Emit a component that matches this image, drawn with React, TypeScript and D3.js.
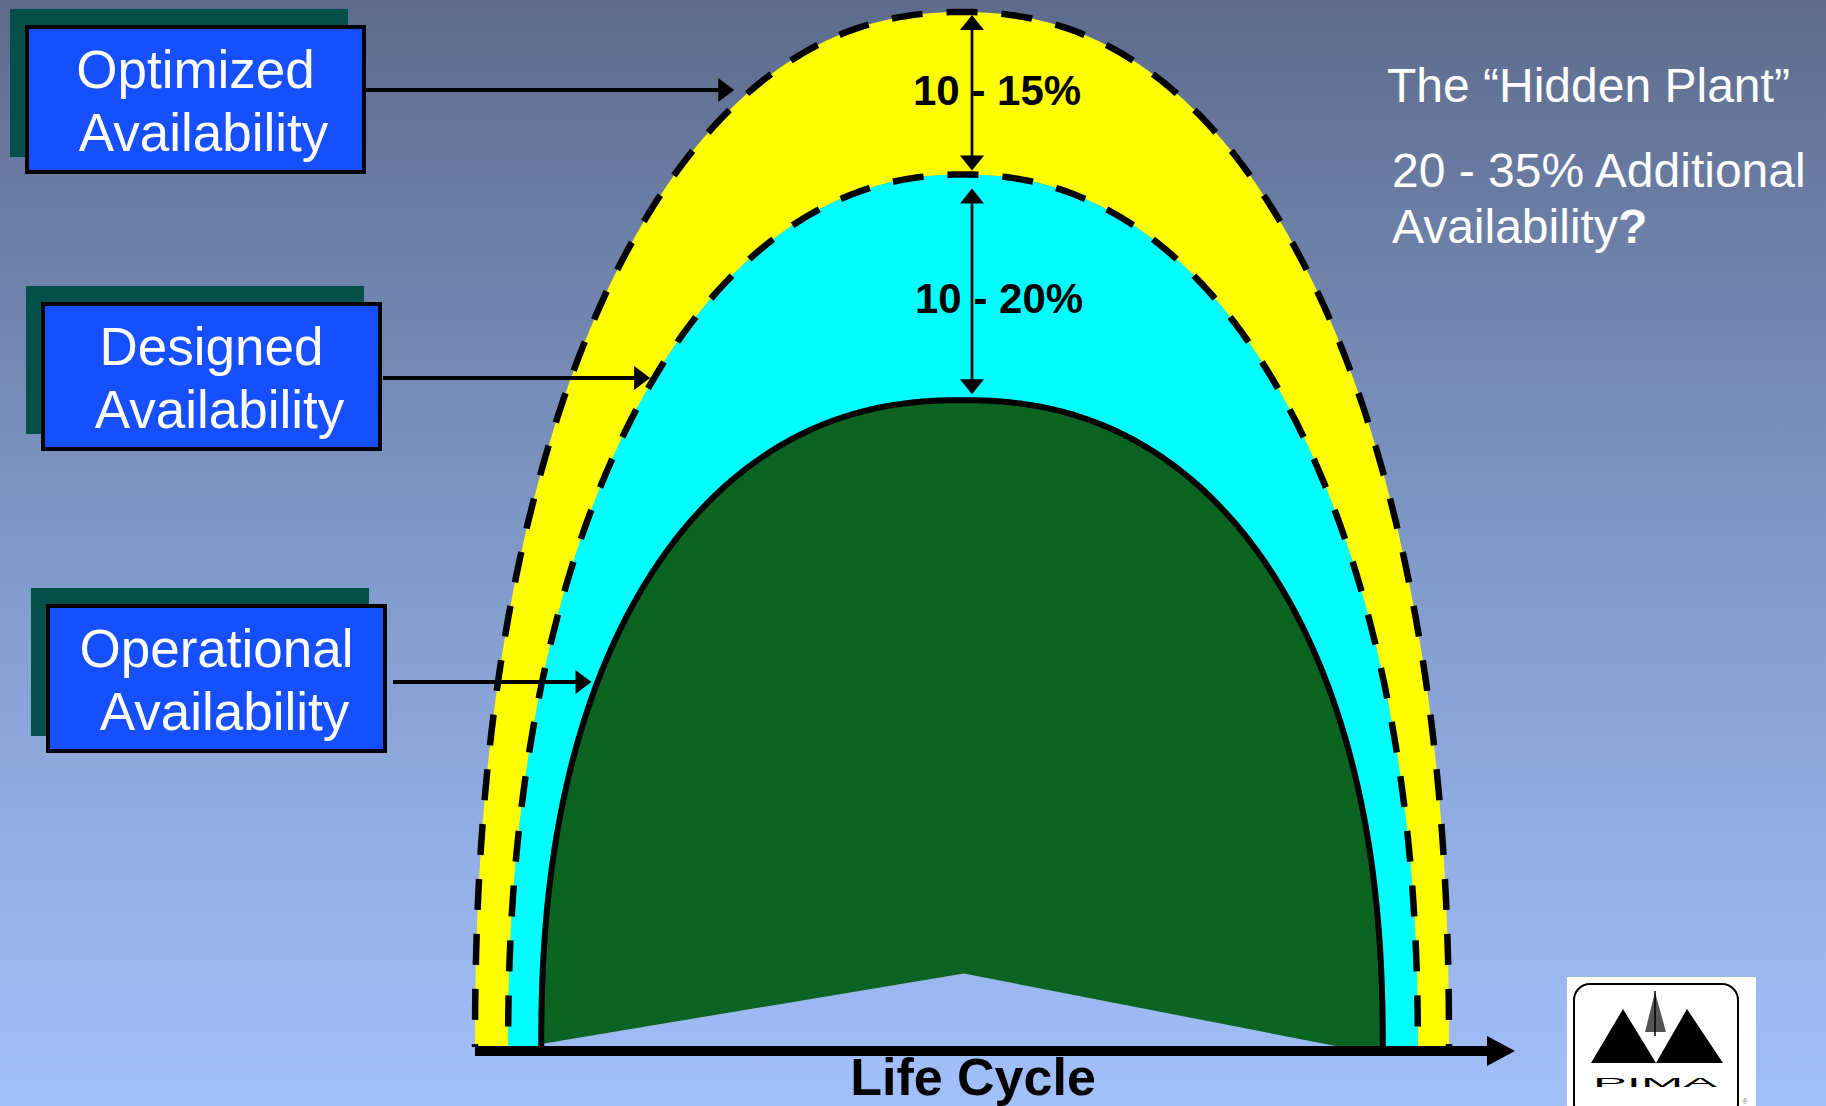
import * as d3 from 'd3';

const W = 1826;
const H = 1106;

// availability layers, outer to inner
const layerNames = ['Optimized', 'Designed', 'Operational'];
const layerPeak = [100, 84.3, 62.5]; // dome top, % of chart height
const layerStart = [0, 3.4, 6.8]; // life cycle % where the dome meets the axis
const layerEnd = [100, 96.8, 93.2];
const layerFill = ['#ffff00', '#00ffff', '#0b6421'];
const domeExponent = [2.2, 2.15, 2.25];

// the gaps between the domes
const gapLabels = ['10 - 15%', '10 - 20%'];

// notch cut into the bottom of the operational dome
const notchX = [6.8, 50.2, 88.9];
const notchY = [0.3, 7.1, 0];

const noteLines = ['The \u201cHidden Plant\u201d', '20 - 35% Additional', 'Availability'];

const FONT = '"Liberation Sans", Arial, Helvetica, sans-serif';

const x = d3.scaleLinear().domain([0, 100]).range([475, 1449]);
const y = d3.scaleLinear().domain([0, 100]).range([1047, 12]);

function domeGeom(i: number) {
  const x0 = x(layerStart[i]);
  const x1 = x(layerEnd[i]);
  return { cx: (x0 + x1) / 2, a: (x1 - x0) / 2, base: y(0), b: y(0) - y(layerPeak[i]), n: domeExponent[i] };
}

function domePoints(i: number): [number, number][] {
  const g = domeGeom(i);
  return d3.range(0, 401).map((k) => {
    const t = Math.PI * (1 - k / 400);
    const c = Math.cos(t);
    const s = Math.sin(t);
    return [
      g.cx + g.a * Math.sign(c) * Math.pow(Math.abs(c), 2 / g.n),
      g.base - g.b * Math.pow(Math.abs(s), 2 / g.n),
    ] as [number, number];
  });
}

// left edge of a dome at a given pixel height
function domeLeftAt(i: number, py: number) {
  const g = domeGeom(i);
  const h = Math.min(1, Math.max(0, (g.base - py) / g.b));
  return g.cx - g.a * Math.pow(1 - Math.pow(h, g.n), 1 / g.n);
}

function polyLength(p: [number, number][]) {
  let L = 0;
  for (let k = 1; k < p.length; k++) L += Math.hypot(p[k][0] - p[k - 1][0], p[k][1] - p[k - 1][1]);
  return L;
}

const DASH = 31;
const GAP = 24;

function head(tx: number, ty: number, dir: 'up' | 'down' | 'right', len = 15, hw = 12) {
  if (dir === 'right') return `M${tx},${ty}L${tx - len},${ty - hw}L${tx - len},${ty + hw}Z`;
  if (dir === 'up') return `M${tx},${ty}L${tx - hw},${ty + len}L${tx + hw},${ty + len}Z`;
  return `M${tx},${ty}L${tx - hw},${ty - len}L${tx + hw},${ty - len}Z`;
}

export default function App() {
  const line = d3.line();
  const pts = layerNames.map((_, i) => domePoints(i));

  const greenShape = [
    ...pts[2],
    ...notchX
      .map((nx, k) => [x(nx), y(notchY[k])] as [number, number])
      .reverse(),
  ];

  const dashOffset = (p: [number, number][]) => {
    const P = DASH + GAP;
    return ((((DASH / 2 - polyLength(p) / 2) % P) + P) % P);
  };

  const boxLeft = [27, 43, 48];
  const boxTop = [27, 304, 606];
  const arrowY = [90, 378, 682];
  const arrowStart = [366, 383, 393];
  const tipGap = [17, 4, 6];
  const BW = 337;
  const BH = 145;

  const vx = 972;
  const axisY = 1051;

  return (
    <svg
      width={W}
      height={H}
      viewBox={`0 0 ${W} ${H}`}
      style={{ position: 'absolute', left: 0, top: 0, display: 'block' }}
    >
      <defs>
        <linearGradient id="bg" x1="0" y1="0" x2="0" y2={H} gradientUnits="userSpaceOnUse">
          <stop offset="0" stopColor="#5d6c8c" />
          <stop offset="0.5" stopColor="#8099c9" />
          <stop offset="1" stopColor="#a2c0fa" />
        </linearGradient>
      </defs>
      <rect x={0} y={0} width={W} height={H} fill="url(#bg)" />

      {/* domes */}
      <path d={line(pts[0]) + 'Z' + line(pts[1]) + 'Z'} fill={layerFill[0]} fillRule="evenodd" />
      <path d={line(pts[1]) + 'Z' + line(pts[2]) + 'Z'} fill={layerFill[1]} fillRule="evenodd" />
      <path d={line(greenShape) + 'Z'} fill={layerFill[2]} />

      <path
        d={line(pts[0]) || ''}
        fill="none"
        stroke="#000"
        strokeWidth={6.5}
        strokeDasharray={`${DASH} ${GAP}`}
        strokeDashoffset={dashOffset(pts[0])}
      />
      <path
        d={line(pts[1]) || ''}
        fill="none"
        stroke="#000"
        strokeWidth={6.5}
        strokeDasharray={`${DASH} ${GAP}`}
        strokeDashoffset={dashOffset(pts[1])}
      />
      <path d={line(pts[2]) || ''} fill="none" stroke="#000" strokeWidth={6} />

      {/* gap arrows */}
      <line x1={vx} x2={vx} y1={y(layerPeak[0]) + 16} y2={y(layerPeak[1]) - 18} stroke="#000" strokeWidth={2.7} />
      <path d={head(vx, y(layerPeak[0]) + 3, 'up')} fill="#000" />
      <path d={head(vx, y(layerPeak[1]) - 4, 'down')} fill="#000" />
      <line x1={vx} x2={vx} y1={y(layerPeak[1]) + 27} y2={y(layerPeak[2]) - 19} stroke="#000" strokeWidth={2.7} />
      <path d={head(vx, y(layerPeak[1]) + 14, 'up')} fill="#000" />
      <path d={head(vx, y(layerPeak[2]) - 6, 'down')} fill="#000" />

      <text x={913} y={(y(layerPeak[0]) + y(layerPeak[1])) / 2 + 12} fontFamily={FONT} fontWeight="bold" fontSize={42} fill="#000">
        {gapLabels[0]}
      </text>
      <text x={915} y={(y(layerPeak[1]) + y(layerPeak[2])) / 2 + 26} fontFamily={FONT} fontWeight="bold" fontSize={42} fill="#000">
        {gapLabels[1]}
      </text>

      {/* life cycle axis */}
      <line x1={x(0)} x2={1489} y1={axisY} y2={axisY} stroke="#000" strokeWidth={10} />
      <path d={`M1515,${axisY}L1487,${axisY - 15}L1487,${axisY + 15}Z`} fill="#000" />
      <text x={973} y={1095} textAnchor="middle" fontFamily={FONT} fontWeight="bold" fontSize={52} fill="#000">
        Life Cycle
      </text>

      {/* layer boxes and pointers */}
      {layerNames.map((name, i) => {
        const bx = boxLeft[i];
        const by = boxTop[i];
        const tip = domeLeftAt(i, arrowY[i]) - tipGap[i];
        return (
          <g key={name}>
            <rect x={bx - 17} y={by - 18} width={BW + 1} height={BH + 3} fill="#034f4a" />
            <rect x={bx} y={by} width={BW} height={BH} fill="#1650fe" stroke="#000" strokeWidth={4} />
            <text textAnchor="middle" fontFamily={FONT} fontSize={53} fill="#fff">
              <tspan x={bx + BW / 2} y={by + 61}>{name}</tspan>
              <tspan x={bx + BW / 2 + 8} y={by + 124}>Availability</tspan>
            </text>
            <line x1={arrowStart[i]} x2={tip - 10} y1={arrowY[i]} y2={arrowY[i]} stroke="#000" strokeWidth={4} />
            <path d={head(tip, arrowY[i], 'right', 16, 12)} fill="#000" />
          </g>
        );
      })}

      {/* side note */}
      <text fontFamily={FONT} fontSize={48} fill="#fff">
        <tspan x={1387} y={102}>{noteLines[0]}</tspan>
        <tspan x={1392} y={187}>{noteLines[1]}</tspan>
        <tspan x={1392} y={243}>
          {noteLines[2]}
          <tspan fontWeight="bold">?</tspan>
        </tspan>
      </text>

      {/* PIMA logo */}
      <g>
        <rect x={1567} y={977} width={189} height={129} fill="#fff" />
        <rect x={1574} y={984} width={164} height={136} rx={16} fill="none" stroke="#000" strokeWidth={2} />
        <path d="M1623,1009L1591,1063L1656,1063Z" fill="#000" />
        <path d="M1687,1009L1656,1063L1723,1063Z" fill="#000" />
        <path d="M1655,992L1645,1032L1666,1032Z" fill="#555" />
        <line x1={1655} x2={1655} y1={991} y2={1036} stroke="#000" strokeWidth={1.5} />
        <text
          x={1593}
          y={1087}
          textLength={124}
          lengthAdjust="spacingAndGlyphs"
          fontFamily={FONT}
          fontSize={13}
          fill="#000"
        >
          PIMA
        </text>
        <text x={1742} y={1104} fontFamily={FONT} fontSize={8} fill="#888">
          ®
        </text>
      </g>
    </svg>
  );
}
